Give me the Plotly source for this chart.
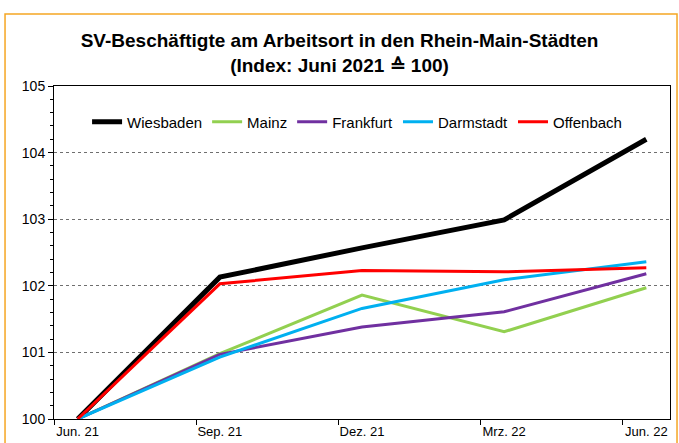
import plotly.graph_objects as go

# Data (index, Juni 2021 = 100)
quarters = ["Jun. 21", "Sep. 21", "Dez. 21", "Mrz. 22", "Jun. 22"]
month_offset = [0, 3, 6, 9, 12]  # months since Jun. 21
wiesbaden = [100.0, 102.13, 102.57, 102.99, 104.20]
mainz = [100.0, 100.98, 101.86, 101.31, 101.97]
frankfurt = [100.0, 100.97, 101.38, 101.61, 102.18]
darmstadt = [100.0, 100.93, 101.66, 102.09, 102.36]
offenbach = [100.0, 102.03, 102.23, 102.21, 102.27]

series = [
    ("Wiesbaden", wiesbaden, "#000000", 5),
    ("Mainz", mainz, "#92D050", 3),
    ("Frankfurt", frankfurt, "#7030A0", 3),
    ("Darmstadt", darmstadt, "#00B0F0", 3),
    ("Offenbach", offenbach, "#FF0000", 3),
]

fig = go.Figure()
for name, vals, color, w in series:
    fig.add_trace(go.Scatter(x=month_offset, y=vals, mode="lines", name=name,
                             line=dict(color=color, width=w)))

font_family = "Liberation Sans, Arial, sans-serif"

fig.update_layout(
    width=679, height=443,
    margin=dict(l=54, r=9, t=86, b=24),
    paper_bgcolor="white", plot_bgcolor="white",
    font=dict(family=font_family, color="black"),
    title=dict(
        text="SV-Beschäftigte am Arbeitsort in den Rhein-Main-Städten<br>(Index: Juni 2021 ≙ 100)",
        x=0.5, xanchor="center", y=0.894, yanchor="middle",
        font=dict(size=19, family=font_family, color="black", weight="bold"),
    ),
    showlegend=True,
    legend=dict(orientation="h", x=0.492, xanchor="center", y=0.892, yanchor="middle",
                font=dict(size=15), bgcolor="rgba(0,0,0,0)",
                traceorder="normal"),
    xaxis=dict(
        range=[-0.5, 12.5], tickmode="array", tickvals=month_offset, ticktext=quarters,
        ticks="", showgrid=False, zeroline=False, automargin=False,
        showline=True, linecolor="black", linewidth=1, mirror=True,
        tickfont=dict(size=13),
        minor=dict(tick0=-0.5, dtick=3, ticks="outside", ticklen=5, tickcolor="black",
                   showgrid=False),
    ),
    yaxis=dict(
        range=[100, 105], tickmode="linear", tick0=100, dtick=1,
        ticks="outside", ticklen=5, tickcolor="black", automargin=False,
        showgrid=True, gridcolor="#6f6f6f", griddash="dot", gridwidth=1,
        zeroline=False, showline=True, linecolor="black", linewidth=1, mirror=True,
        tickfont=dict(size=14),
        minor=dict(dtick=0.2, ticks="outside", ticklen=3, tickcolor="black", showgrid=False),
    ),
    shapes=[dict(type="rect", xref="paper", yref="paper",
                 x0=-0.0795, x1=1.0114, y0=-0.2, y1=1.216,
                 line=dict(color="#F5A623", width=1.5), layer="below")],
)

fig.write_html(
    "out.html",
    config={"displayModeBar": False},
    post_script="document.body.style.margin='0';document.body.style.overflow='hidden';",
)
